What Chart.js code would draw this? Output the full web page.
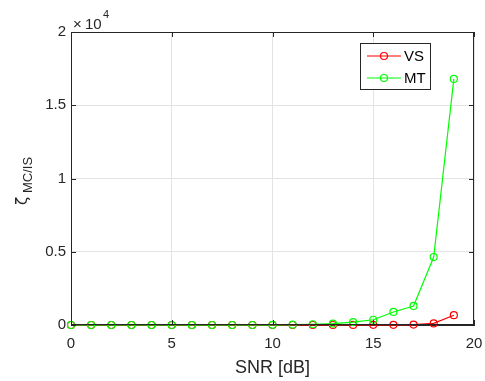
<!DOCTYPE html>
<html>
<head>
<meta charset="utf-8">
<script src="https://cdn.jsdelivr.net/npm/chart.js@4"></script>
<style>
  html, body { margin: 0; padding: 0; background: #fff; }
  #wrap { width: 485px; height: 381px; }
</style>
</head>
<body>
<div id="wrap"><canvas id="c" width="485" height="381"></canvas></div>
<script>
// ---- data ----
const snr = [0, 1, 2, 3, 4, 5, 6, 7, 8, 9, 10, 11, 12, 13, 14, 15, 16, 17, 18, 19];
const vsVals = [0, 0, 0, 0, 0, 0, 0, 0, 0, 0, 0, 0, 0, 0, 5, 10, 15, 30, 110, 670];
const mtVals = [0, 0, 0, 0, 0, 0, 0, 0, 0, 0, 10, 20, 50, 100, 200, 360, 890, 1300, 4640, 16800];
const xTicks = [0, 5, 10, 15, 20];
const yTicks = [0, 5000, 10000, 15000, 20000];

const FONT = "'Liberation Sans', Arial, sans-serif";
const INK = "#262626";

function pts(vals) {
  return snr.map((x, i) => ({ x: x, y: vals[i] }));
}

// box, inner ticks, legend, axis titles, exponent
const matlabLook = {
  id: "matlabLook",
  afterDraw(chart) {
    const ctx = chart.ctx;
    const a = chart.chartArea;
    const xs = chart.scales.x, ys = chart.scales.y;
    ctx.save();
    ctx.strokeStyle = INK;
    ctx.lineWidth = 1;
    // box
    ctx.strokeRect(a.left + 0.5, a.top + 0.5, a.right - a.left - 1, a.bottom - a.top - 1);
    // inward ticks
    const tl = 5;
    ctx.beginPath();
    xTicks.forEach(v => {
      const px = Math.round(xs.getPixelForValue(v)) + 0.5;
      ctx.moveTo(px, a.bottom); ctx.lineTo(px, a.bottom - tl);
      ctx.moveTo(px, a.top); ctx.lineTo(px, a.top + tl);
    });
    yTicks.forEach(v => {
      const py = Math.round(ys.getPixelForValue(v)) + 0.5;
      ctx.moveTo(a.left, py); ctx.lineTo(a.left + tl, py);
      ctx.moveTo(a.right, py); ctx.lineTo(a.right - tl, py);
    });
    ctx.stroke();

    // exponent label
    ctx.fillStyle = INK;
    ctx.textBaseline = "alphabetic";
    ctx.textAlign = "left";
    ctx.font = "15px " + FONT;
    ctx.fillText("\u00d7", a.left + 2, a.top - 3);
    ctx.fillText("10", a.left + 14, a.top - 3);
    ctx.font = "11px " + FONT;
    ctx.fillText("4", a.left + 32, a.top - 14);

    // x title
    ctx.font = "18px " + FONT;
    ctx.textAlign = "center";
    ctx.fillText("SNR [dB]", (a.left + a.right) / 2, 373);

    // y title with subscript
    ctx.translate(0, 179);
    ctx.rotate(-Math.PI / 2);
    ctx.textAlign = "left";
    ctx.font = "15px 'DejaVu Sans', " + FONT;
    ctx.fillText("\u03b6", -26, 27);
    ctx.font = "13px " + FONT;
    ctx.fillText("MC/IS", -14, 32);
    ctx.restore();

    // legend
    ctx.save();
    const lx = 360, ly = 43, lw = 70, lh = 46;
    ctx.fillStyle = "#fff";
    ctx.fillRect(lx, ly, lw, lh);
    ctx.strokeStyle = INK;
    ctx.lineWidth = 1;
    ctx.strokeRect(lx + 0.5, ly + 0.5, lw, lh);
    chart.data.datasets.forEach((ds, i) => {
      const y = ly + 13 + i * 22;
      ctx.strokeStyle = ds.borderColor;
      ctx.lineWidth = 1.2;
      ctx.beginPath();
      ctx.moveTo(lx + 7, y); ctx.lineTo(lx + 41, y);
      ctx.stroke();
      ctx.beginPath();
      ctx.arc(lx + 24, y, 3.5, 0, Math.PI * 2);
      ctx.stroke();
      ctx.fillStyle = "#000";
      ctx.font = "15px " + FONT;
      ctx.textAlign = "left";
      ctx.textBaseline = "middle";
      ctx.fillText(ds.label, lx + 44, y + 1);
    });
    ctx.restore();
  }
};

const lineStyle = {
  backgroundColor: "rgba(0,0,0,0)",
  borderWidth: 1.2,
  pointRadius: 3.5,
  pointBorderWidth: 1.2,
  pointBackgroundColor: "rgba(0,0,0,0)",
  tension: 0,
  clip: false
};

new Chart(document.getElementById("c"), {
  type: "line",
  data: {
    datasets: [
      Object.assign({ label: "VS", data: pts(vsVals), order: 1, borderColor: "#ff0000" }, lineStyle),
      Object.assign({ label: "MT", data: pts(mtVals), order: 0, borderColor: "#00ff00" }, lineStyle)
    ]
  },
  options: {
    responsive: false,
    animation: false,
    layout: { padding: { left: 0, right: 11, top: 32, bottom: 0 } },
    plugins: { legend: { display: false }, tooltip: { enabled: false } },
    scales: {
      x: {
        type: "linear",
        min: 0, max: 20,
        afterBuildTicks: s => { s.ticks = xTicks.map(v => ({ value: v })); },
        afterFit: s => { s.height = 56; s.paddingLeft = 0; s.paddingRight = 0; },
        grid: { color: "#e3e3e3", drawTicks: false },
        border: { color: INK },
        ticks: { color: INK, font: { family: FONT, size: 15 }, padding: 10, maxRotation: 0 }
      },
      y: {
        min: 0, max: 20000,
        afterBuildTicks: s => { s.ticks = yTicks.map(v => ({ value: v })); },
        afterFit: s => { s.width = 71; s.paddingTop = 0; s.paddingBottom = 0; },
        grid: { color: "#e3e3e3", drawTicks: false },
        border: { color: INK },
        ticks: {
          color: INK, font: { family: FONT, size: 15 }, padding: 5,
          callback: v => String(v / 10000)
        }
      }
    }
  },
  plugins: [matlabLook]
});
</script>
</body>
</html>
